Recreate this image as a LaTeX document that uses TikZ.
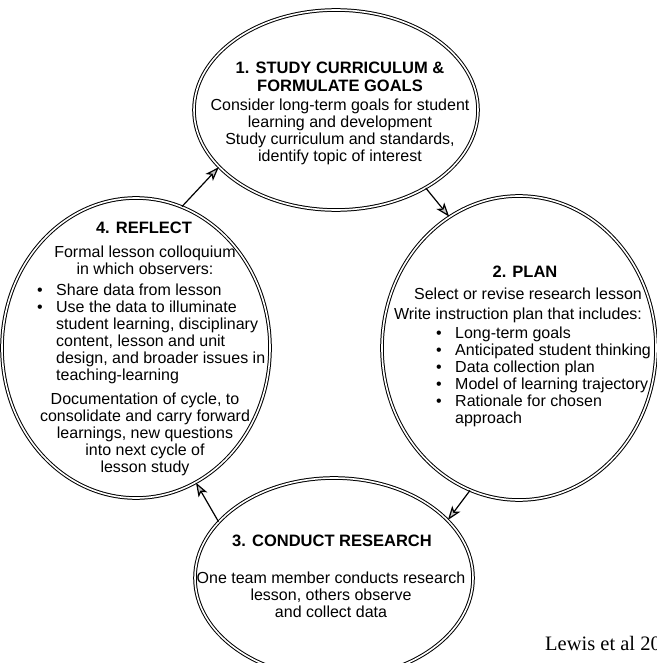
\documentclass[tikz,border=0pt]{standalone}
\usepackage{fontspec}
\setmainfont{Liberation Sans}
\newfontfamily\citefont{Liberation Serif}
\usetikzlibrary{shapes.geometric,arrows.meta}

\newcommand{\bul}{\makebox[19pt][l]{\textbullet}}
\newcommand{\ind}{\hspace*{19pt}}

\begin{document}
\begin{tikzpicture}[x=1pt,y=-1pt,
  stage/.style={ellipse, draw=black, line width=1pt, double=white,
                double distance=1.6pt, inner sep=0pt},
  ttl/.style={font=\fontsize{16.5}{18}\selectfont\bfseries, anchor=base,
              inner sep=0pt, align=center},
  body/.style={font=\fontsize{16}{17}\selectfont, anchor=base,
               inner sep=0pt, align=center},
  list/.style={font=\fontsize{16}{17}\selectfont, anchor=base west,
               inner sep=0pt, align=left},
  flow/.style={line width=1.2pt,
               -{Stealth[length=14pt,width=10pt,inset=3.5pt,fill=gray!45]}}
]
\useasboundingbox (0,0) rectangle (656,663);

% the four stages of the cycle
\node[stage, minimum width=284pt, minimum height=200pt] (s1) at (336,110) {};
\node[stage, minimum width=274pt, minimum height=304pt] (s2) at (519,348) {};
\node[stage, minimum width=278pt, minimum height=200pt] (s3) at (334,578) {};
\node[stage, minimum width=268pt, minimum height=300pt] (s4) at (136,348) {};

% stage 1 (base = last line)
\node[ttl] (t1) at (340,92) {1. STUDY CURRICULUM \&\\FORMULATE GOALS};
\node[body] (b1a) at (340,128) {Consider long-term goals for student\\learning and development};
\node[body] (b1b) at (340,161) {Study curriculum and standards,\\identify topic of interest};

% stage 2
\node[ttl] (t2) at (525,277) {2. PLAN};
\node[body] (b2a) at (528,299) {Select or revise research lesson};
\node[body] (b2b) at (518,319) {Write instruction plan that includes:};
\node[list] (l2) at (436,423) {\bul Long-term goals\\\bul Anticipated student thinking\\
  \bul Data collection plan\\\bul Model of learning trajectory\\
  \bul Rationale for chosen\\\ind approach};

% stage 3
\node[ttl] (t3) at (332,546) {3. CONDUCT RESEARCH};
\node[body] (b3) at (331,617) {One team member conducts research\\lesson, others observe\\and collect data};

% stage 4
\node[ttl] (t4) at (144,233) {4. REFLECT};
\node[body] (b4a) at (145,274) {Formal lesson colloquium\\in which observers:};
\node[list] (l4) at (37,380) {\bul Share data from lesson\\\bul Use the data to illuminate\\
  \ind student learning, disciplinary\\\ind content, lesson and unit\\
  \ind design, and broader issues in\\\ind teaching-learning};
\node[body] (b4b) at (145,472) {Documentation of cycle, to\\consolidate and carry forward\\
  learnings, new questions\\into next cycle of\\lesson study};

% arrows between stages
\draw[flow] (s1.-41) -- (s2.118);
\draw[flow] (s2.-109) -- (s3.27);
\draw[flow] (s3.154) -- (s4.-66);
\draw[flow] (s4.72) -- (s1.206);

% source
\node[font=\citefont\fontsize{20.5}{22}\selectfont, anchor=base west, inner sep=0pt]
  (src) at (545,650) {Lewis et al 20};
\end{tikzpicture}
\end{document}
